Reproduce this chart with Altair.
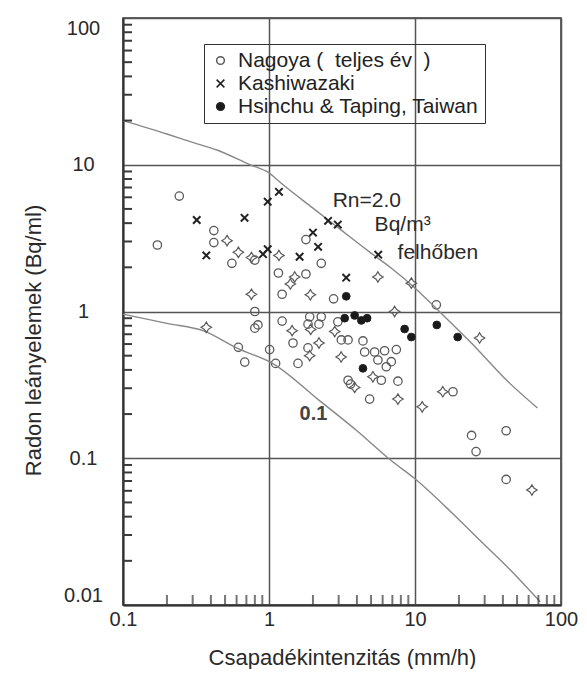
import altair as alt
import pandas as pd

# ---------------- data ----------------
# Nagoya, open circles
nag_c_x = [0.243, 0.172, 0.419, 0.419, 0.557, 0.80, 1.79, 2.28, 1.16, 1.79, 1.23, 2.77,
           14.0, 0.80, 0.84, 0.80, 1.23, 1.90, 2.28, 1.85, 2.20, 2.96, 0.617, 0.682,
           1.01, 1.11, 1.46, 1.58, 3.13, 3.48, 4.40, 4.52, 5.29, 6.19, 7.45, 5.57,
           6.88, 6.36, 3.48, 3.62, 5.88, 7.64, 4.89, 18.2, 24.4, 42.1, 26.2, 42.1, 1.85]
nag_c_y = [6.12, 2.84, 3.56, 2.95, 2.13, 2.24, 3.09, 2.13, 1.83, 1.80, 1.31, 1.22,
           1.11, 1.00, 0.81, 0.77, 0.86, 0.92, 0.92, 0.82, 0.82, 0.85, 0.57, 0.452,
           0.55, 0.443, 0.61, 0.443, 0.64, 0.64, 0.63, 0.53, 0.53, 0.54, 0.55, 0.467,
           0.455, 0.42, 0.34, 0.32, 0.34, 0.335, 0.253, 0.284, 0.143, 0.154, 0.111, 0.0717, 0.565]
# Nagoya, open diamonds
nag_d_x = [0.516, 0.617, 0.758, 1.17, 0.758, 0.372, 1.50, 1.40, 1.92, 5.57, 7.25, 9.44,
           27.7, 1.44, 1.93, 2.82, 2.20, 1.90, 3.12, 3.86, 5.15, 7.64, 11.2, 15.5, 63.2]
nag_d_y = [3.04, 2.53, 2.33, 2.41, 1.31, 0.78, 1.72, 1.54, 1.30, 1.72, 1.00, 1.56,
           0.66, 0.74, 0.755, 0.73, 0.61, 0.50, 0.49, 0.304, 0.359, 0.253, 0.224, 0.284, 0.0607]
# Kashiwazaki (x)
kas_x = [0.32, 0.68, 0.372, 0.98, 1.17, 0.91, 0.98, 1.62, 2.0, 2.17, 2.54, 2.96, 3.38, 5.6]
kas_y = [4.2, 4.35, 2.41, 5.6, 6.54, 2.46, 2.66, 2.36, 3.45, 2.76, 4.15, 3.91, 1.70, 2.44]
# Hsinchu & Taping (filled dots)
hsi_x = [3.38, 3.30, 3.86, 4.29, 4.70, 4.40, 8.49, 9.44, 14.1, 19.6]
hsi_y = [1.27, 0.90, 0.94, 0.87, 0.90, 0.41, 0.76, 0.67, 0.81, 0.67]

# model curves
upper_x = [0.1, 0.2, 0.3, 0.44, 0.74, 1.0, 1.19, 2.0, 3.0, 5.0, 7.0, 9.6, 15, 24.7, 42.4, 69]
upper_y = [20, 16.2, 14.2, 12.6, 10, 8.8, 7.6, 5.06, 3.7, 2.5, 1.95, 1.5, 0.98, 0.6, 0.34, 0.22]
lower_x = [0.1, 0.2, 0.36, 0.61, 1.07, 2.24, 4.0, 7.0, 9.9, 18.1, 27.7, 45, 72]
lower_y = [0.96, 0.83, 0.735, 0.56, 0.44, 0.245, 0.154, 0.095, 0.073, 0.042, 0.0277, 0.0173, 0.0105]

# axis ticks
x_major = [0.1, 1, 10, 100]
y_major = [0.01, 0.1, 1, 10, 100]
x_minor = [m * d for d in [0.1, 1, 10] for m in range(2, 10)]
y_minor = [m * d for d in [0.01, 0.1, 1, 10] for m in range(2, 10)]

# labels
series = ["Nagoya (\u00a0\u00a0teljes év\u00a0\u00a0)", "Nagoya ", "Kashiwazaki", "Hsinchu & Taping, Taiwan"]
ann_text = ["Rn=2.0", "Bq/m\u00b3", "felhőben"]
ann_x = [2.73, 5.29, 7.6]
ann_y = [5.66, 3.88, 2.50]
lab01_text = ["0.1"]
lab01_x = [1.62]
lab01_y = [0.2]

# ---------------- chart ----------------
FONT = "Liberation Sans"
W, H = 438, 587
STAR = "M0,-1L0.38,-0.38L1,0L0.38,0.38L0,1L-0.38,0.38L-1,0L-0.38,-0.38Z"
XMARK = "M-1,-1L1,1M-1,1L1,-1"

def mk(xs, ys, name):
    return pd.DataFrame({"x": xs, "y": ys, "series": name})

df_c = mk(nag_c_x, nag_c_y, series[0])
df_d = mk(nag_d_x, nag_d_y, series[1])
df_k = mk(kas_x, kas_y, series[2])
df_h = mk(hsi_x, hsi_y, series[3])
curves = pd.concat([
    pd.DataFrame({"x": upper_x, "y": upper_y, "curve": "upper"}),
    pd.DataFrame({"x": lower_x, "y": lower_y, "curve": "lower"}),
])
ann = pd.DataFrame({"x": ann_x, "y": ann_y, "t": ann_text})
ann2 = pd.DataFrame({"x": lab01_x, "y": lab01_y, "t": lab01_text})

XS = alt.Scale(type="log", domain=[0.1, 100], nice=False)
YS = alt.Scale(type="log", domain=[0.01, 100], nice=False)

XAX = alt.Axis(orient="bottom", values=x_major, format="~g", grid=True, gridColor="#555",
               gridWidth=1.5, ticks=False, domainColor="#333", domainWidth=2,
               labelFont=FONT, labelFontSize=20, labelColor="#2a2a2a", labelPadding=4,
               labelFlush=False,
               title="Csapadékintenzitás (mm/h)", titleFont=FONT, titleFontSize=22,
               titleFontWeight="normal", titleColor="#2a2a2a", titleY=52,
               titleBaseline="middle")
YAX = alt.Axis(orient="left", values=y_major, format="~g", grid=True, gridColor="#555",
               gridWidth=1.5, ticks=False, domainColor="#333", domainWidth=2,
               labelFont=FONT, labelFontSize=20, labelColor="#2a2a2a", labelPadding=40,
               labelAlign="center", labelFlush=True,
               title="Radon leányelemek (Bq/ml)", titleFont=FONT, titleFontSize=22,
               titleFontWeight="normal", titleColor="#2a2a2a", titleX=-90, titleY=322,
               titleAlign="center", titleBaseline="middle", titleAngle=270)

leg = alt.Legend(title=None, values=[series[0], series[2], series[3]], orient="none",
                 legendX=81, legendY=26, strokeColor="#333", padding=6,
                 labelFont=FONT, labelFontSize=21, labelColor="#222", labelLimit=0,
                 symbolSize=60, rowPadding=1, symbolOffset=0, labelOffset=7,
                 direction="vertical")

SH = alt.Scale(domain=series, range=["circle", STAR, XMARK, "circle"])
ST = alt.Scale(domain=series, range=["#5a5a5a", "#5a5a5a", "#222222", "#222222"])
FI = alt.Scale(domain=series, range=["transparent", "transparent", "transparent", "#1a1a1a"])


def pts(df, size, sw, first=False):
    return alt.Chart(df).mark_point(size=size, strokeWidth=sw, opacity=1).encode(
        x=alt.X("x:Q", scale=XS, axis=XAX if first else None),
        y=alt.Y("y:Q", scale=YS, axis=YAX if first else None),
        shape=alt.Shape("series:N", scale=SH, legend=leg),
        stroke=alt.Stroke("series:N", scale=ST, legend=leg),
        fill=alt.Fill("series:N", scale=FI, legend=leg),
    )


curve_layer = alt.Chart(curves).mark_line(color="#888888", strokeWidth=1.4,
                                          interpolate="monotone").encode(
    x=alt.X("x:Q", scale=XS, axis=None),
    y=alt.Y("y:Q", scale=YS, axis=None),
    detail="curve:N",
)

# inward minor tick marks on the left and bottom frame
yticks = alt.Chart(pd.DataFrame({"v": y_minor})).mark_rule(color="#3a3a3a", strokeWidth=2).encode(
    y=alt.Y("v:Q", scale=YS, axis=None), x=alt.value(0), x2=alt.value(9))
xticks = alt.Chart(pd.DataFrame({"v": x_minor})).mark_tick(color="#3a3a3a", thickness=2, size=10).encode(
    x=alt.X("v:Q", scale=XS, axis=None), y=alt.value(H - 5))

text_layer = alt.Chart(ann).mark_text(align="left", baseline="middle", font=FONT,
                                      fontSize=21, color="#2a2a2a").encode(
    x=alt.X("x:Q", scale=XS, axis=None),
    y=alt.Y("y:Q", scale=YS, axis=None),
    text="t:N",
)
text_layer2 = alt.Chart(ann2).mark_text(align="left", baseline="middle", font=FONT,
                                        fontSize=20, fontWeight="bold", color="#444").encode(
    x=alt.X("x:Q", scale=XS, axis=None),
    y=alt.Y("y:Q", scale=YS, axis=None),
    text="t:N",
)

chart = alt.layer(
    pts(df_c, 70, 1.3, first=True),
    curve_layer,
    pts(df_d, 110, 1.2),
    pts(df_k, 55, 2.0),
    pts(df_h, 60, 1.0),
    text_layer,
    text_layer2,
    yticks,
    xticks,
).resolve_axis(x="independent", y="independent").properties(
    width=W, height=H,
    autosize=alt.AutoSizeParams(type="none"),
    padding={"left": 115, "top": 10, "right": 18, "bottom": 64},
).configure_view(stroke="#333", strokeWidth=1.5)

chart.save("out.html", embed_options={"renderer": "svg", "actions": False})
